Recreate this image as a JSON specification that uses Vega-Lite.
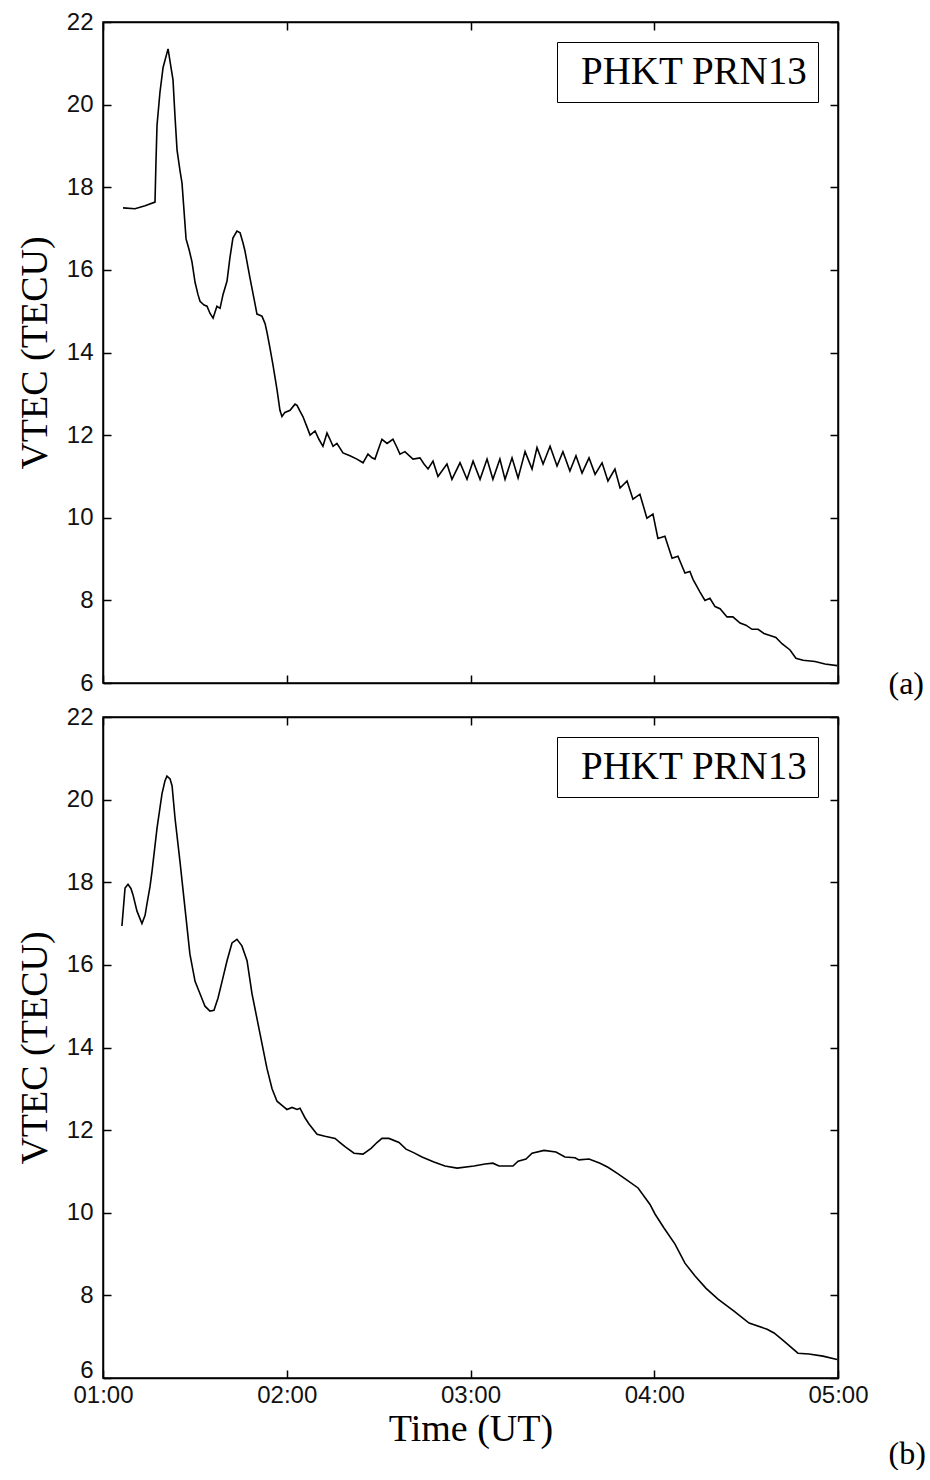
{
  "$schema": "https://vega.github.io/schema/vega-lite/v6.json",
  "padding": {"left": 15, "top": 9, "right": 0, "bottom": 0},
  "background": "white",
  "config": {
    "view": {"stroke": "black", "strokeWidth": 1.5},
    "axis": {
      "grid": false,
      "domainColor": "black", "domainWidth": 1.5,
      "tickColor": "black", "tickWidth": 1.5, "tickSize": -8,
      "labelFont": "Liberation Sans", "labelFontSize": 24, "labelColor": "#111",
      "labelPadding": 18, "labelFlush": false,
      "titleFont": "Liberation Serif", "titleFontSize": 38, "titleFontWeight": "normal", "titleColor": "black"
    },
    "legend": {
      "orient": "top-right", "offset": 20, "title": null,
      "symbolSize": 0, "symbolStrokeWidth": 0, "labelOffset": -25, "padding": 10,
      "strokeColor": "black", "labelFont": "Liberation Serif", "labelFontSize": 39,
      "labelLimit": 0, "labelColor": "black"
    }
  },
  "datasets": {
    "a": [
      {"hour": 1.109, "vtec": 17.5}, {"hour": 1.174, "vtec": 17.48}, {"hour": 1.229, "vtec": 17.55}, {"hour": 1.283, "vtec": 17.64},
      {"hour": 1.288, "vtec": 18.56}, {"hour": 1.294, "vtec": 19.5}, {"hour": 1.31, "vtec": 20.3}, {"hour": 1.327, "vtec": 20.9},
      {"hour": 1.354, "vtec": 21.35}, {"hour": 1.37, "vtec": 20.9}, {"hour": 1.381, "vtec": 20.6}, {"hour": 1.392, "vtec": 19.7},
      {"hour": 1.403, "vtec": 18.9}, {"hour": 1.419, "vtec": 18.4}, {"hour": 1.43, "vtec": 18.1}, {"hour": 1.452, "vtec": 16.75},
      {"hour": 1.468, "vtec": 16.5}, {"hour": 1.484, "vtec": 16.2}, {"hour": 1.501, "vtec": 15.7}, {"hour": 1.517, "vtec": 15.4},
      {"hour": 1.528, "vtec": 15.24}, {"hour": 1.55, "vtec": 15.15}, {"hour": 1.566, "vtec": 15.12}, {"hour": 1.582, "vtec": 14.95},
      {"hour": 1.599, "vtec": 14.83}, {"hour": 1.62, "vtec": 15.12}, {"hour": 1.637, "vtec": 15.07}, {"hour": 1.653, "vtec": 15.4},
      {"hour": 1.675, "vtec": 15.73}, {"hour": 1.691, "vtec": 16.3}, {"hour": 1.707, "vtec": 16.77}, {"hour": 1.729, "vtec": 16.94},
      {"hour": 1.746, "vtec": 16.9}, {"hour": 1.762, "vtec": 16.65}, {"hour": 1.773, "vtec": 16.45}, {"hour": 1.8, "vtec": 15.8},
      {"hour": 1.822, "vtec": 15.3}, {"hour": 1.838, "vtec": 14.93}, {"hour": 1.854, "vtec": 14.9}, {"hour": 1.865, "vtec": 14.88},
      {"hour": 1.882, "vtec": 14.7}, {"hour": 1.892, "vtec": 14.5}, {"hour": 1.909, "vtec": 14.1}, {"hour": 1.925, "vtec": 13.7},
      {"hour": 1.947, "vtec": 13.1}, {"hour": 1.963, "vtec": 12.6}, {"hour": 1.974, "vtec": 12.45}, {"hour": 1.99, "vtec": 12.55},
      {"hour": 2.018, "vtec": 12.6}, {"hour": 2.045, "vtec": 12.75}, {"hour": 2.056, "vtec": 12.72}, {"hour": 2.072, "vtec": 12.58},
      {"hour": 2.088, "vtec": 12.45}, {"hour": 2.11, "vtec": 12.2}, {"hour": 2.127, "vtec": 12.0}, {"hour": 2.154, "vtec": 12.1},
      {"hour": 2.175, "vtec": 11.9}, {"hour": 2.197, "vtec": 11.73}, {"hour": 2.219, "vtec": 12.05}, {"hour": 2.235, "vtec": 11.9},
      {"hour": 2.252, "vtec": 11.73}, {"hour": 2.273, "vtec": 11.8}, {"hour": 2.306, "vtec": 11.57}, {"hour": 2.344, "vtec": 11.5},
      {"hour": 2.382, "vtec": 11.42}, {"hour": 2.415, "vtec": 11.33}, {"hour": 2.442, "vtec": 11.54}, {"hour": 2.464, "vtec": 11.45},
      {"hour": 2.48, "vtec": 11.42}, {"hour": 2.502, "vtec": 11.7}, {"hour": 2.518, "vtec": 11.9}, {"hour": 2.546, "vtec": 11.8},
      {"hour": 2.578, "vtec": 11.9}, {"hour": 2.6, "vtec": 11.7}, {"hour": 2.616, "vtec": 11.54}, {"hour": 2.643, "vtec": 11.6},
      {"hour": 2.687, "vtec": 11.42}, {"hour": 2.725, "vtec": 11.45}, {"hour": 2.747, "vtec": 11.3}, {"hour": 2.769, "vtec": 11.18},
      {"hour": 2.796, "vtec": 11.37}, {"hour": 2.823, "vtec": 11.0}, {"hour": 2.872, "vtec": 11.3}, {"hour": 2.899, "vtec": 10.93},
      {"hour": 2.943, "vtec": 11.33}, {"hour": 2.981, "vtec": 10.93}, {"hour": 3.014, "vtec": 11.37}, {"hour": 3.052, "vtec": 10.93},
      {"hour": 3.09, "vtec": 11.42}, {"hour": 3.122, "vtec": 10.93}, {"hour": 3.16, "vtec": 11.42}, {"hour": 3.188, "vtec": 10.93},
      {"hour": 3.226, "vtec": 11.45}, {"hour": 3.259, "vtec": 10.96}, {"hour": 3.297, "vtec": 11.6}, {"hour": 3.335, "vtec": 11.18},
      {"hour": 3.362, "vtec": 11.7}, {"hour": 3.395, "vtec": 11.3}, {"hour": 3.433, "vtec": 11.73}, {"hour": 3.471, "vtec": 11.25},
      {"hour": 3.503, "vtec": 11.6}, {"hour": 3.541, "vtec": 11.13}, {"hour": 3.574, "vtec": 11.5}, {"hour": 3.607, "vtec": 11.08},
      {"hour": 3.645, "vtec": 11.45}, {"hour": 3.678, "vtec": 11.05}, {"hour": 3.716, "vtec": 11.33}, {"hour": 3.748, "vtec": 10.89},
      {"hour": 3.786, "vtec": 11.18}, {"hour": 3.814, "vtec": 10.72}, {"hour": 3.852, "vtec": 10.89}, {"hour": 3.884, "vtec": 10.45},
      {"hour": 3.922, "vtec": 10.57}, {"hour": 3.96, "vtec": 9.99}, {"hour": 3.993, "vtec": 10.09}, {"hour": 4.02, "vtec": 9.5},
      {"hour": 4.058, "vtec": 9.55}, {"hour": 4.097, "vtec": 9.02}, {"hour": 4.129, "vtec": 9.07}, {"hour": 4.167, "vtec": 8.66},
      {"hour": 4.194, "vtec": 8.7}, {"hour": 4.211, "vtec": 8.51}, {"hour": 4.249, "vtec": 8.2}, {"hour": 4.276, "vtec": 8.0},
      {"hour": 4.303, "vtec": 8.05}, {"hour": 4.331, "vtec": 7.85}, {"hour": 4.358, "vtec": 7.8}, {"hour": 4.396, "vtec": 7.6},
      {"hour": 4.428, "vtec": 7.6}, {"hour": 4.467, "vtec": 7.45}, {"hour": 4.499, "vtec": 7.4}, {"hour": 4.532, "vtec": 7.3},
      {"hour": 4.565, "vtec": 7.3}, {"hour": 4.597, "vtec": 7.2}, {"hour": 4.63, "vtec": 7.15}, {"hour": 4.662, "vtec": 7.1},
      {"hour": 4.695, "vtec": 6.95}, {"hour": 4.739, "vtec": 6.8}, {"hour": 4.771, "vtec": 6.6}, {"hour": 4.81, "vtec": 6.55},
      {"hour": 4.875, "vtec": 6.52}, {"hour": 4.929, "vtec": 6.46}, {"hour": 4.995, "vtec": 6.42}
    ],
    "b": [
      {"hour": 1.103, "vtec": 16.94}, {"hour": 1.12, "vtec": 17.86}, {"hour": 1.136, "vtec": 17.95}, {"hour": 1.152, "vtec": 17.85},
      {"hour": 1.163, "vtec": 17.7}, {"hour": 1.185, "vtec": 17.3}, {"hour": 1.212, "vtec": 17.0}, {"hour": 1.229, "vtec": 17.2},
      {"hour": 1.239, "vtec": 17.47}, {"hour": 1.256, "vtec": 17.9}, {"hour": 1.267, "vtec": 18.27}, {"hour": 1.294, "vtec": 19.31},
      {"hour": 1.321, "vtec": 20.14}, {"hour": 1.337, "vtec": 20.45}, {"hour": 1.348, "vtec": 20.57}, {"hour": 1.365, "vtec": 20.5},
      {"hour": 1.376, "vtec": 20.33}, {"hour": 1.392, "vtec": 19.55}, {"hour": 1.419, "vtec": 18.5}, {"hour": 1.446, "vtec": 17.38},
      {"hour": 1.473, "vtec": 16.26}, {"hour": 1.501, "vtec": 15.6}, {"hour": 1.528, "vtec": 15.3}, {"hour": 1.555, "vtec": 15.0},
      {"hour": 1.582, "vtec": 14.88}, {"hour": 1.604, "vtec": 14.9}, {"hour": 1.626, "vtec": 15.2}, {"hour": 1.648, "vtec": 15.6},
      {"hour": 1.675, "vtec": 16.1}, {"hour": 1.702, "vtec": 16.53}, {"hour": 1.729, "vtec": 16.62}, {"hour": 1.756, "vtec": 16.46},
      {"hour": 1.784, "vtec": 16.1}, {"hour": 1.811, "vtec": 15.3}, {"hour": 1.838, "vtec": 14.7}, {"hour": 1.865, "vtec": 14.1},
      {"hour": 1.892, "vtec": 13.5}, {"hour": 1.92, "vtec": 13.0}, {"hour": 1.947, "vtec": 12.7}, {"hour": 1.974, "vtec": 12.6},
      {"hour": 2.001, "vtec": 12.5}, {"hour": 2.029, "vtec": 12.55}, {"hour": 2.056, "vtec": 12.5}, {"hour": 2.072, "vtec": 12.53},
      {"hour": 2.099, "vtec": 12.3}, {"hour": 2.121, "vtec": 12.15}, {"hour": 2.165, "vtec": 11.9}, {"hour": 2.208, "vtec": 11.85},
      {"hour": 2.263, "vtec": 11.8}, {"hour": 2.29, "vtec": 11.7}, {"hour": 2.317, "vtec": 11.6}, {"hour": 2.366, "vtec": 11.44},
      {"hour": 2.415, "vtec": 11.42}, {"hour": 2.459, "vtec": 11.56}, {"hour": 2.491, "vtec": 11.7}, {"hour": 2.518, "vtec": 11.8},
      {"hour": 2.556, "vtec": 11.8}, {"hour": 2.611, "vtec": 11.7}, {"hour": 2.649, "vtec": 11.54}, {"hour": 2.693, "vtec": 11.45},
      {"hour": 2.736, "vtec": 11.35}, {"hour": 2.801, "vtec": 11.23}, {"hour": 2.861, "vtec": 11.13}, {"hour": 2.927, "vtec": 11.08},
      {"hour": 3.019, "vtec": 11.13}, {"hour": 3.079, "vtec": 11.18}, {"hour": 3.122, "vtec": 11.2}, {"hour": 3.155, "vtec": 11.13},
      {"hour": 3.231, "vtec": 11.13}, {"hour": 3.259, "vtec": 11.25}, {"hour": 3.302, "vtec": 11.3}, {"hour": 3.335, "vtec": 11.44},
      {"hour": 3.4, "vtec": 11.51}, {"hour": 3.465, "vtec": 11.47}, {"hour": 3.514, "vtec": 11.35}, {"hour": 3.569, "vtec": 11.33},
      {"hour": 3.59, "vtec": 11.28}, {"hour": 3.645, "vtec": 11.3}, {"hour": 3.705, "vtec": 11.2}, {"hour": 3.748, "vtec": 11.1},
      {"hour": 3.797, "vtec": 10.96}, {"hour": 3.846, "vtec": 10.81}, {"hour": 3.912, "vtec": 10.6}, {"hour": 3.977, "vtec": 10.2},
      {"hour": 4.004, "vtec": 9.97}, {"hour": 4.053, "vtec": 9.63}, {"hour": 4.113, "vtec": 9.24}, {"hour": 4.167, "vtec": 8.78},
      {"hour": 4.222, "vtec": 8.47}, {"hour": 4.282, "vtec": 8.17}, {"hour": 4.347, "vtec": 7.91}, {"hour": 4.434, "vtec": 7.62},
      {"hour": 4.516, "vtec": 7.33}, {"hour": 4.614, "vtec": 7.18}, {"hour": 4.652, "vtec": 7.09}, {"hour": 4.706, "vtec": 6.89},
      {"hour": 4.782, "vtec": 6.6}, {"hour": 4.842, "vtec": 6.58}, {"hour": 4.918, "vtec": 6.53}, {"hour": 4.995, "vtec": 6.45}
    ]
  },
  "vconcat": [
    {
      "width": 735, "height": 661,
      "data": {"name": "a"},
      "layer": [
        {
          "mark": {"type": "line", "strokeWidth": 1.6},
          "encoding": {
            "x": {"field": "hour", "type": "quantitative", "scale": {"domain": [1, 5], "nice": false, "zero": false},
                  "axis": {"orient": "bottom", "values": [1, 2, 3, 4, 5], "labels": false, "title": null}},
            "y": {"field": "vtec", "type": "quantitative", "scale": {"domain": [6, 22], "nice": false, "zero": false},
                  "axis": {"orient": "left", "values": [6, 8, 10, 12, 14, 16, 18, 20, 22], "title": "VTEC (TECU)", "titlePadding": 12}},
            "color": {"datum": "PHKT PRN13", "scale": {"range": ["black"]}}
          }
        },
        {
          "mark": {"type": "line", "opacity": 0},
          "encoding": {
            "x": {"field": "hour", "type": "quantitative", "axis": {"orient": "top", "values": [1, 2, 3, 4, 5], "labels": false, "title": null}},
            "y": {"field": "vtec", "type": "quantitative", "axis": {"orient": "right", "values": [6, 8, 10, 12, 14, 16, 18, 20, 22], "labels": false,
                  "title": "(a)", "titleAngle": 0, "titleX": 50, "titleY": 671, "titleAlign": "left", "titleBaseline": "alphabetic", "titleFontSize": 32}}
          }
        }
      ],
      "resolve": {"axis": {"x": "independent", "y": "independent"}}
    },
    {
      "width": 735, "height": 661,
      "data": {"name": "b"},
      "layer": [
        {
          "mark": {"type": "line", "strokeWidth": 1.6},
          "encoding": {
            "x": {"field": "hour", "type": "quantitative", "scale": {"domain": [1, 5], "nice": false, "zero": false},
                  "axis": {"orient": "bottom", "values": [1, 2, 3, 4, 5], "labelExpr": "'0' + datum.value + ':00'", "labelPadding": 13, "title": "Time (UT)", "titlePadding": 3}},
            "y": {"field": "vtec", "type": "quantitative", "scale": {"domain": [6, 22], "nice": false, "zero": false},
                  "axis": {"orient": "left", "values": [6, 8, 10, 12, 14, 16, 18, 20, 22], "title": "VTEC (TECU)", "titlePadding": 12,
                           "labelOffset": {"expr": "datum.value == 6 ? -8 : 0"}}},
            "color": {"datum": "PHKT PRN13", "scale": {"range": ["black"]}}
          }
        },
        {
          "mark": {"type": "line", "opacity": 0},
          "encoding": {
            "x": {"field": "hour", "type": "quantitative", "axis": {"orient": "top", "values": [1, 2, 3, 4, 5], "labels": false, "title": null}},
            "y": {"field": "vtec", "type": "quantitative", "axis": {"orient": "right", "values": [6, 8, 10, 12, 14, 16, 18, 20, 22], "labels": false,
                  "title": "(b)", "titleAngle": 0, "titleX": 50, "titleY": 746, "titleAlign": "left", "titleBaseline": "alphabetic", "titleFontSize": 32}}
          }
        }
      ],
      "resolve": {"axis": {"x": "independent", "y": "independent"}}
    }
  ],
  "spacing": 34,
  "bounds": "flush",
  "resolve": {"scale": {"color": "independent"}}
}
